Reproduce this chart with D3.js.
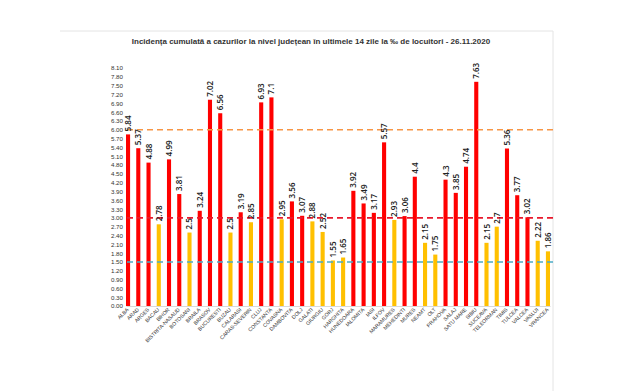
<!DOCTYPE html>
<html>
<head>
<meta charset="utf-8">
<script src="https://cdn.jsdelivr.net/npm/d3@7"></script>
<style>
  body { margin: 0; background: #fff; }
  svg { display: block; font-family: "Liberation Sans", Arial, sans-serif; }
</style>
</head>
<body>
<div id="chart"></div>
<script>
// judete si incidenta la 1000 locuitori
var counties = ["ALBA", "ARAD", "ARGES", "BACAU", "BIHOR", "BISTRITA-NASAUD", "BOTOSANI", "BRAILA",
  "BRASOV", "BUCURESTI", "BUZAU", "CALARASI", "CARAS-SEVERIN", "CLUJ", "CONSTANTA", "COVASNA",
  "DAMBOVITA", "DOLJ", "GALATI", "GIURGIU", "GORJ", "HARGHITA", "HUNEDOARA", "IALOMITA", "IASI",
  "ILFOV", "MARAMURES", "MEHEDINTI", "MURES", "NEAMT", "OLT", "PRAHOVA", "SALAJ", "SATU MARE",
  "SIBIU", "SUCEAVA", "TELEORMAN", "TIMIS", "TULCEA", "VALCEA", "VASLUI", "VRANCEA"];
var incidence = [5.84, 5.37, 4.88, 2.78, 4.99, 3.81, 2.5, 3.24,
  7.02, 6.56, 2.5, 3.19, 2.85, 6.93, 7.1, 2.95,
  3.56, 3.07, 2.88, 2.52, 1.55, 1.65, 3.92, 3.49, 3.17,
  5.57, 2.93, 3.06, 4.4, 2.15, 1.75, 4.3, 3.85, 4.74,
  7.63, 2.15, 2.7, 5.36, 3.77, 3.02, 2.22, 1.86];
var thresholds = [6, 3, 1.5];
var yTicks = d3.range(0, 28).map(function (i) { return +(i * 0.3).toFixed(2); });

var width = 620, height = 391;
var margin = {top: 68, right: 70, bottom: 85, left: 126};

var svg = d3.select("#chart").append("svg")
  .attr("width", width)
  .attr("height", height);

// cadru deschis
svg.append("line").attr("x1", 60).attr("x2", 553).attr("y1", 31).attr("y2", 31)
  .attr("stroke", "#e4e4e4");
svg.append("line").attr("x1", 553).attr("x2", 553).attr("y1", 31).attr("y2", 391)
  .attr("stroke", "#e4e4e4");

svg.append("text")
  .attr("x", 311).attr("y", 44)
  .attr("text-anchor", "middle")
  .attr("font-size", 8)
  .attr("font-weight", "bold")
  .attr("fill", "#333")
  .text("Incidența cumulată a cazurilor la nivel județean în ultimele 14 zile la ‰ de locuitori - 26.11.2020");

var x = d3.scaleBand()
  .domain(counties)
  .range([margin.left, 550])
  .paddingInner(0.6)
  .paddingOuter(0);

var y = d3.scaleLinear()
  .domain([0, 8.1])
  .range([height - margin.bottom, margin.top]);

// axa y
var yAxis = svg.append("g")
  .attr("transform", "translate(" + (margin.left - 1) + ",0)")
  .call(d3.axisLeft(y).tickValues(yTicks).tickFormat(d3.format(".2f")).tickSize(0).tickPadding(2));
yAxis.select(".domain").remove();
yAxis.selectAll("text").attr("font-size", 6.2).attr("fill", "#333");

// axa x
var xAxis = svg.append("g")
  .attr("transform", "translate(0," + y(0) + ")")
  .call(d3.axisBottom(x).tickSize(0).tickPadding(0));
xAxis.select(".domain").attr("stroke", "#d9d9d9");
xAxis.selectAll("text")
  .attr("font-size", 5.2)
  .attr("fill", "#333")
  .attr("text-anchor", "end")
  .attr("dy", 0)
  .attr("transform", "translate(1,4) rotate(-45)");

var data = counties.map(function (c, i) { return {name: c, value: incidence[i]}; });

svg.append("g").selectAll("rect")
  .data(data)
  .join("rect")
  .attr("x", function (d) { return x(d.name); })
  .attr("y", function (d) { return y(d.value); })
  .attr("width", x.bandwidth())
  .attr("height", function (d) { return y(0) - y(d.value); })
  .attr("fill", function (d) { return d.value > 3 ? "#ff0000" : "#ffc000"; });

// praguri
var lineColors = ["#f79646", "#e8192c", "#4bacc6"];
svg.append("g").selectAll("line")
  .data(thresholds)
  .join("line")
  .attr("x1", margin.left + 1)
  .attr("x2", 553)
  .attr("y1", function (d) { return y(d); })
  .attr("y2", function (d) { return y(d); })
  .attr("stroke", function (d, i) { return lineColors[i]; })
  .attr("stroke-width", 1.6)
  .attr("stroke-dasharray", "6,4");

// etichete valori
svg.append("g").selectAll("text")
  .data(data)
  .join("text")
  .attr("transform", function (d) {
    return "translate(" + (x(d.name) + x.bandwidth() / 2 + 3) + "," + (y(d.value) - 3) + ") rotate(-90)";
  })
  .attr("font-family", "'Open Sans', sans-serif")
  .attr("font-size", 8)
  .attr("font-weight", 600)
  .attr("fill", "#222")
  .text(function (d) { return d.value; });
</script>
</body>
</html>
